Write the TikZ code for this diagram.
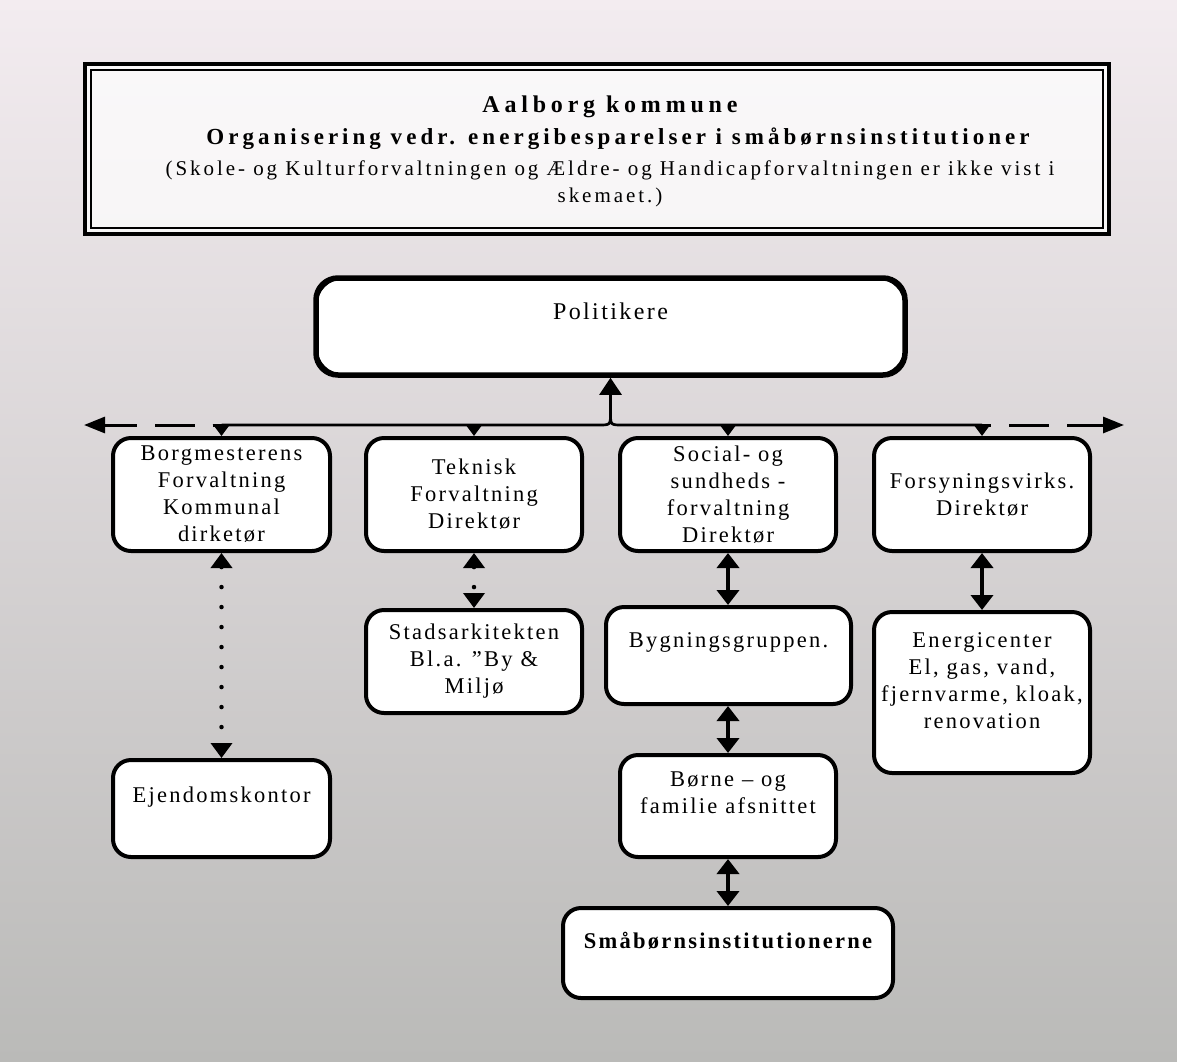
\documentclass[tikz,border=0pt]{standalone}
\usepackage{fontspec}
\setmainfont{Liberation Serif}
\newfontfamily\orgfont{Liberation Serif}[LetterSpace=10]
\newfontfamily\headfont{Liberation Serif}[LetterSpace=20]
\newfontfamily\subheadfont{Liberation Serif}[LetterSpace=17.5]
\newfontfamily\notefont{Liberation Serif}[LetterSpace=14]
\usepackage{tikz}
\usetikzlibrary{arrows.meta,calc,positioning}

\definecolor{bgtop}{RGB}{243,236,240}
\definecolor{bgmid}{RGB}{226,218,222}
\definecolor{bgbot}{RGB}{186,186,184}

\tikzset{
  orgbox/.style={draw=black, fill=white, line width=4pt, rounded corners=18pt,
    inner sep=0pt, align=center, font=\orgfont\fontsize{22.5}{27}\selectfont},
  orgtext/.style={inner sep=0pt, align=center, font=\orgfont\fontsize{22.5}{27}\selectfont},
  headtext/.style={inner sep=0pt, align=center},
  conn/.style={line width=2.7pt},
  busarrow/.style={conn, -{Triangle[width=17pt,length=12pt]}},
  extarrow/.style={line width=3pt, dash pattern=on 40pt off 18pt, dash phase=31pt,
    -{Triangle[width=16pt,length=21pt]}},
  dotarrow/.style={line width=4.5pt, line cap=round, dash pattern=on 0pt off 20pt,
    {Triangle[width=21pt,length=15pt]}-{Triangle[width=21pt,length=15pt]}},
  dblarrow/.style={line width=4pt,
    {Triangle[width=22pt,length=15pt]}-{Triangle[width=22pt,length=15pt]}}
}

\begin{document}
\begin{tikzpicture}[x=1pt,y=-1pt]
    \useasboundingbox (0,0) rectangle (1177,1061);
    \shade[top color=bgtop, middle color=bgmid, bottom color=bgbot] (0,0) rectangle (1177,1061);

    % title
    \draw[line width=3.5pt, fill=white, fill opacity=0.7] (85,64) rectangle (1109,234);
    \draw[line width=1.2pt] (91,70) rectangle (1103,228);
    \node[headtext, font=\headfont\bfseries\fontsize{24}{28}\selectfont] (head) at (610,107) {Aalborg kommune};
    \node[headtext, font=\subheadfont\bfseries\fontsize{23}{28}\selectfont] (subhead) at (618,139)
    {Organisering vedr. energibesparelser i småbørnsinstitutioner};
    \node[headtext, font=\notefont\fontsize{21}{27}\selectfont] (note) at (610,183.5)
    {(Skole- og Kulturforvaltningen og Ældre- og Handicapforvaltningen er ikke vist i\\skemaet.)};

    % boxes
    \node[orgbox, minimum width=589pt, minimum height=97pt, line width=5.5pt, rounded corners=22pt] (pol) at (610.5,326.5) {};
    \draw[line width=1.5pt, rounded corners=26pt] ($(pol.south west)+(3.5,-3.5)$) rectangle ($(pol.north east)+(-3.5,3.5)$);
    \node[orgtext, font=\orgfont\fontsize{24}{28}\selectfont] (poltext) at (610.5,311) {Politikere};

    \node[orgbox, minimum width=217pt, minimum height=113pt] (borg) at (221.5,494.5) {Borgmesterens\\Forvaltning\\Kommunal\\dirketør};
    \node[orgbox, minimum width=216pt, minimum height=113pt] (tek) at (474,494.5) {Teknisk\\Forvaltning\\Direktør};
    \node[orgbox, minimum width=216pt, minimum height=113pt] (soc) at (728,494.5) {Social- og\\sundheds -\\forvaltning\\Direktør};
    \node[orgbox, minimum width=216pt, minimum height=113pt] (fors) at (982,494.5) {Forsyningsvirks.\\Direktør};

    \node[orgbox, minimum width=217pt, minimum height=97pt] (ejd) at (221.5,808.5) {};
    \node[orgtext] (ejdtext) at (221.5,797) {Ejendomskontor};
    \node[orgbox, minimum width=216pt, minimum height=103pt] (stad) at (474,661.5) {Stadsarkitekten\\Bl.a. ”By \&\\Miljø};
    \node[orgbox, minimum width=245pt, minimum height=97pt] (byg) at (728.5,655.5) {};
    \node[orgtext] (bygtext) at (728.5,642) {Bygningsgruppen.};
    \node[orgbox, minimum width=216pt, minimum height=102pt] (born) at (728,806) {};
    \node[orgtext] (borntext) at (728,792.5) {Børne – og\\familie afsnittet};
    \node[orgbox, minimum width=330pt, minimum height=90pt] (smaa) at (728,953) {};
    \node[orgtext, font=\orgfont\bfseries\fontsize{22.5}{27}\selectfont] (smaatext) at (728,941) {Småbørnsinstitutionerne};
    \node[orgbox, minimum width=216pt, minimum height=161pt] (energi) at (982,692.5) {};
    \node[orgtext] (energitext) at (982,680.5) {Energicenter\\El, gas, vand,\\fjernvarme, kloak,\\renovation};

    % bus
    \coordinate (busL) at (borg.north |- 0,425);
    \coordinate (busR) at (fors.north |- 0,425);
    \coordinate (busM) at (pol.south |- 0,425);
    \coordinate (extL) at (84,425);
    \coordinate (extR) at (1124,425);

    \draw[conn] (busL) -- ($(busM)+(-12,0)$) .. controls (busM) .. ($(busM)+(0,-12)$)
      .. controls (busM) .. ($(busM)+(12,0)$) -- (busR);
    \draw[conn, -{Triangle[width=22pt,length=17pt]}] ($(busM)+(0,-12)$) -- (pol.south);
    \draw[extarrow] (busL) -- (extL);
    \draw[extarrow] (busR) -- (extR);

    \draw[busarrow] (busL) -- (borg.north);
    \draw[busarrow] (tek.north |- busL) -- (tek.north);
    \draw[busarrow] (soc.north |- busL) -- (soc.north);
    \draw[busarrow] (busR) -- (fors.north);

    % links
    \draw[dotarrow] (borg.south) -- (ejd.north);
    \draw[dotarrow] (tek.south) -- (stad.north);
    \draw[dblarrow] (soc.south) -- (soc.south |- byg.north);
    \draw[dblarrow] (soc.south |- byg.south) -- (born.north);
    \draw[dblarrow] (born.south) -- (smaa.north);
    \draw[dblarrow] (fors.south) -- (energi.north);
\end{tikzpicture}
\end{document}
